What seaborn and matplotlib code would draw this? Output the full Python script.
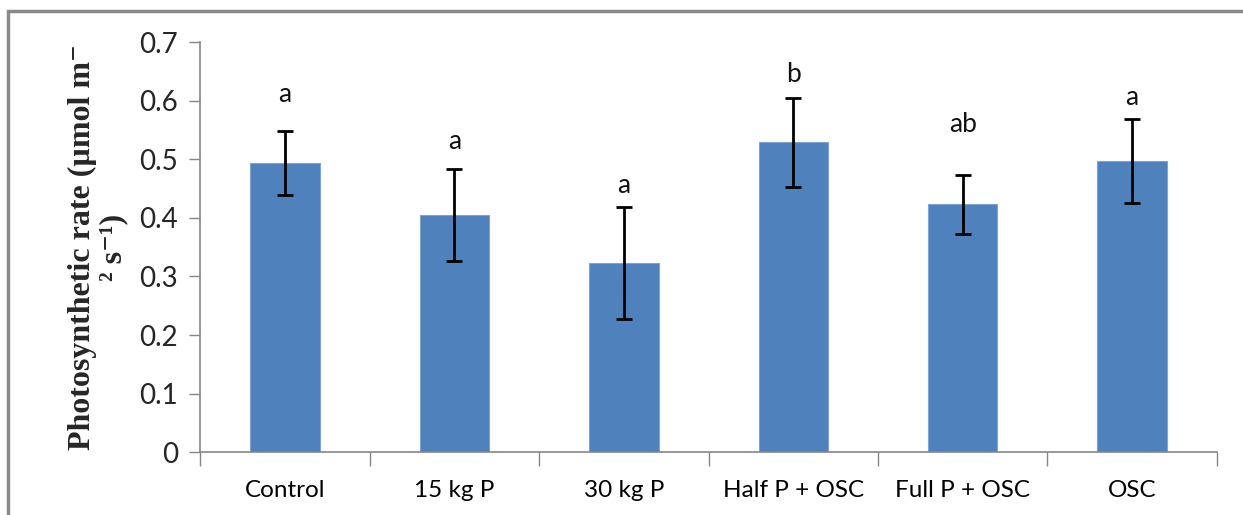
import matplotlib
matplotlib.use("Agg")
import matplotlib.pyplot as plt
import seaborn as sns
import pandas as pd
from matplotlib.patches import Rectangle

categories = ["Control", "15 kg P", "30 kg P", "Half P + OSC", "Full P + OSC", "OSC"]
rates = [0.494, 0.405, 0.323, 0.529, 0.423, 0.497]
errors = [0.055, 0.079, 0.095, 0.076, 0.051, 0.072]
letters = ["a", "a", "a", "b", "ab", "a"]
letter_y = [0.61, 0.53, 0.455, 0.645, 0.56, 0.605]
yticks = [0, 0.1, 0.2, 0.3, 0.4, 0.5, 0.6, 0.7]

sns.set_theme(style="white")
plt.rcParams['font.family'] = ['Lato', 'DejaVu Sans']

df = pd.DataFrame({"cat": categories, "rate": rates})

fig = plt.figure(figsize=(12.43, 5.15), dpi=100)
ax = fig.add_axes([0.161, 0.122, 0.818, 0.796])

bar_color = "#4F81BD"
sns.barplot(data=df, x="cat", y="rate", color=bar_color, saturation=1,
            width=0.41, edgecolor="#7FA3D0", linewidth=0.8, ax=ax, errorbar=None)

ax.errorbar(range(len(categories)), rates, yerr=errors, fmt="none",
            ecolor="black", elinewidth=2, capsize=6, capthick=2, zorder=5)

for i, (lt, ly) in enumerate(zip(letters, letter_y)):
    ax.text(i, ly, lt, ha="center", va="center", fontsize=19, color="#111111")

ax.set_ylim(0, 0.7)
ax.set_xlim(-0.5, len(categories) - 0.5)
ax.set_yticks(yticks)
ax.set_yticklabels(["0" if v == 0 else f"{v:.1f}" for v in yticks], fontsize=20)
ax.set_xticks(range(len(categories)))
ax.set_xticklabels(categories, fontsize=17.5)
ax.set_xticks([i - 0.5 for i in range(len(categories) + 1)], minor=True)
ax.tick_params(axis="x", which="major", length=0, pad=20, colors="black")
ax.tick_params(axis="x", which="minor", length=10, width=1, color="#868686", direction="out", bottom=True)
ax.tick_params(axis="y", which="major", length=8, width=1, color="#868686", direction="out", left=True, pad=8)
ax.set_xlabel("")

for s in ["top", "right"]:
    ax.spines[s].set_visible(False)
for s in ["left", "bottom"]:
    ax.spines[s].set_color("#868686")
    ax.spines[s].set_linewidth(1.2)

ax.set_ylabel("Photosynthetic rate (µmol m⁻\n² s⁻¹)", fontsize=23, fontweight="bold",
              family=["Liberation Serif", "DejaVu Serif"], linespacing=1.1, labelpad=8)

fig.patches.append(Rectangle((0.0065, -0.1), 1.2, 1.079, transform=fig.transFigure,
                             fill=False, edgecolor="#8a8a8a", linewidth=2.5))

fig.savefig("out.png", dpi=100)
